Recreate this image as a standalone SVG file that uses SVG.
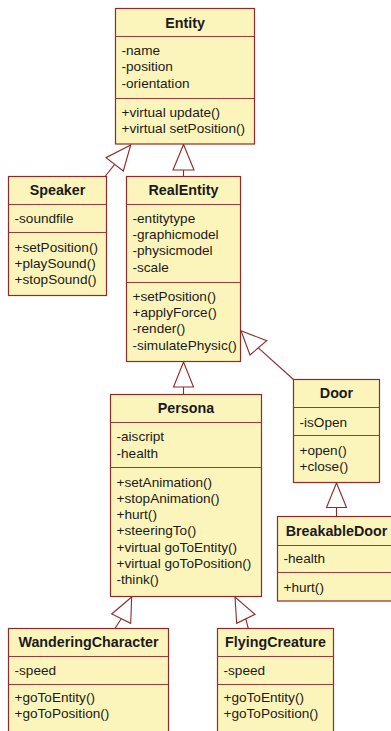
<svg xmlns="http://www.w3.org/2000/svg" width="391" height="731" viewBox="0 0 391 731">
  <style>
    .box { fill: #fcf5bb; stroke: #8e2a2a; stroke-width: 1.2; }
    .sep { stroke: #9a3a3a; stroke-width: 1.2; fill: none; }
    .edge { stroke: #8e2a2a; stroke-width: 1.1; fill: none; }
    .head { fill: #ffffff; stroke: #8e2a2a; stroke-width: 1.1; }
    text { font-family: "Liberation Sans", Arial, sans-serif; font-size: 13.6px; fill: #1a1a1a; }
    .title { font-weight: bold; font-size: 14.3px; text-anchor: middle; }
  </style>
  <rect width="391" height="731" fill="#ffffff"/>

  <!-- inheritance connectors: line plus hollow triangle at the parent -->
  <g id="connectors">
    <!-- Speaker -> Entity -->
    <line class="edge" x1="105" y1="176.5" x2="114.7" y2="164.3"/>
    <polygon class="head" points="130.7,145 106,157.7 123.3,171"/>
    <!-- RealEntity -> Entity -->
    <line class="edge" x1="183.5" y1="176.5" x2="183.5" y2="170"/>
    <polygon class="head" points="183.5,144.5 173,170 194,170"/>
    <!-- Persona -> RealEntity -->
    <line class="edge" x1="183.5" y1="394.5" x2="183.5" y2="387"/>
    <polygon class="head" points="183.5,362 173.5,387 193.5,387"/>
    <!-- Door -> RealEntity -->
    <line class="edge" x1="293.5" y1="379.5" x2="258.3" y2="347.8"/>
    <polygon class="head" points="241,330.7 266.7,340.7 250,355"/>
    <!-- BreakableDoor -> Door -->
    <line class="edge" x1="336.5" y1="516.5" x2="336.5" y2="507.5"/>
    <polygon class="head" points="336.5,483 326.5,507.5 346.5,507.5"/>
    <!-- WanderingCharacter -> Persona -->
    <line class="edge" x1="115" y1="628.5" x2="121.2" y2="618.7"/>
    <polygon class="head" points="131.7,597 111.7,614 130.7,623.3"/>
    <!-- FlyingCreature -> Persona -->
    <line class="edge" x1="248.3" y1="628.5" x2="245.8" y2="618.8"/>
    <polygon class="head" points="235,597 236.7,623.3 255,614.3"/>
  </g>

  <g id="entity">
    <rect class="box" x="115.5" y="8.5" width="139" height="135.5"/>
    <line class="sep" x1="115.5" y1="36.5" x2="254.5" y2="36.5"/>
    <line class="sep" x1="115.5" y1="98.5" x2="254.5" y2="98.5"/>
    <text class="title" x="185" y="27.5">Entity</text>
    <text x="121.5" y="55">-name</text>
    <text x="121.5" y="71.3">-position</text>
    <text x="121.5" y="87.6">-orientation</text>
    <text x="121.5" y="116.7">+virtual update()</text>
    <text x="121.5" y="133">+virtual setPosition()</text>
  </g>

  <g id="speaker">
    <rect class="box" x="8.5" y="176.5" width="98" height="119"/>
    <line class="sep" x1="8.5" y1="204.5" x2="106.5" y2="204.5"/>
    <line class="sep" x1="8.5" y1="232.5" x2="106.5" y2="232.5"/>
    <text class="title" x="57.5" y="195.3">Speaker</text>
    <text x="14.5" y="223.3">-soundfile</text>
    <text x="14.5" y="251.7">+setPosition()</text>
    <text x="14.5" y="268">+playSound()</text>
    <text x="14.5" y="284.3">+stopSound()</text>
  </g>

  <g id="realentity">
    <rect class="box" x="126.5" y="176.5" width="114" height="185"/>
    <line class="sep" x1="126.5" y1="204.5" x2="240.5" y2="204.5"/>
    <line class="sep" x1="126.5" y1="282.5" x2="240.5" y2="282.5"/>
    <text class="title" x="183.5" y="195.3">RealEntity</text>
    <text x="132.5" y="222.7">-entitytype</text>
    <text x="132.5" y="239">-graphicmodel</text>
    <text x="132.5" y="255.3">-physicmodel</text>
    <text x="132.5" y="271.6">-scale</text>
    <text x="132.5" y="300.7">+setPosition()</text>
    <text x="132.5" y="317">+applyForce()</text>
    <text x="132.5" y="333.3">-render()</text>
    <text x="132.5" y="349.6">-simulatePhysic()</text>
  </g>

  <g id="persona">
    <rect class="box" x="110.5" y="394.5" width="151" height="202"/>
    <line class="sep" x1="110.5" y1="422.5" x2="261.5" y2="422.5"/>
    <line class="sep" x1="110.5" y1="467.5" x2="261.5" y2="467.5"/>
    <text class="title" x="186" y="413.3">Persona</text>
    <text x="116.5" y="441.3">-aiscript</text>
    <text x="116.5" y="457.6">-health</text>
    <text x="116.5" y="486.5">+setAnimation()</text>
    <text x="116.5" y="502.8">+stopAnimation()</text>
    <text x="116.5" y="519.1">+hurt()</text>
    <text x="116.5" y="535.4">+steeringTo()</text>
    <text x="116.5" y="551.7">+virtual goToEntity()</text>
    <text x="116.5" y="568">+virtual goToPosition()</text>
    <text x="116.5" y="584.3">-think()</text>
  </g>

  <g id="door">
    <rect class="box" x="293.5" y="379.5" width="86" height="103"/>
    <line class="sep" x1="293.5" y1="407.5" x2="379.5" y2="407.5"/>
    <line class="sep" x1="293.5" y1="435.5" x2="379.5" y2="435.5"/>
    <text class="title" x="336.5" y="398.3">Door</text>
    <text x="299.5" y="426.5">-isOpen</text>
    <text x="299.5" y="454.5">+open()</text>
    <text x="299.5" y="470.8">+close()</text>
  </g>

  <g id="breakabledoor">
    <rect class="box" x="277.5" y="516.5" width="122" height="84.5"/>
    <line class="sep" x1="277.5" y1="545.5" x2="399.5" y2="545.5"/>
    <line class="sep" x1="277.5" y1="572.5" x2="399.5" y2="572.5"/>
    <text class="title" x="336.5" y="536">BreakableDoor</text>
    <text x="283.5" y="563.3">-health</text>
    <text x="283.5" y="591.7">+hurt()</text>
  </g>

  <g id="wanderingcharacter">
    <rect class="box" x="8.5" y="628.5" width="160" height="120"/>
    <line class="sep" x1="8.5" y1="656.5" x2="168.5" y2="656.5"/>
    <line class="sep" x1="8.5" y1="684.5" x2="168.5" y2="684.5"/>
    <text class="title" x="88.5" y="647">WanderingCharacter</text>
    <text x="14.5" y="674.5">-speed</text>
    <text x="14.5" y="702">+goToEntity()</text>
    <text x="14.5" y="718.3">+goToPosition()</text>
  </g>

  <g id="flyingcreature">
    <rect class="box" x="217.5" y="628.5" width="116" height="120"/>
    <line class="sep" x1="217.5" y1="656.5" x2="333.5" y2="656.5"/>
    <line class="sep" x1="217.5" y1="684.5" x2="333.5" y2="684.5"/>
    <text class="title" x="275.5" y="647">FlyingCreature</text>
    <text x="223.5" y="674.5">-speed</text>
    <text x="223.5" y="702">+goToEntity()</text>
    <text x="223.5" y="718.3">+goToPosition()</text>
  </g>
</svg>
